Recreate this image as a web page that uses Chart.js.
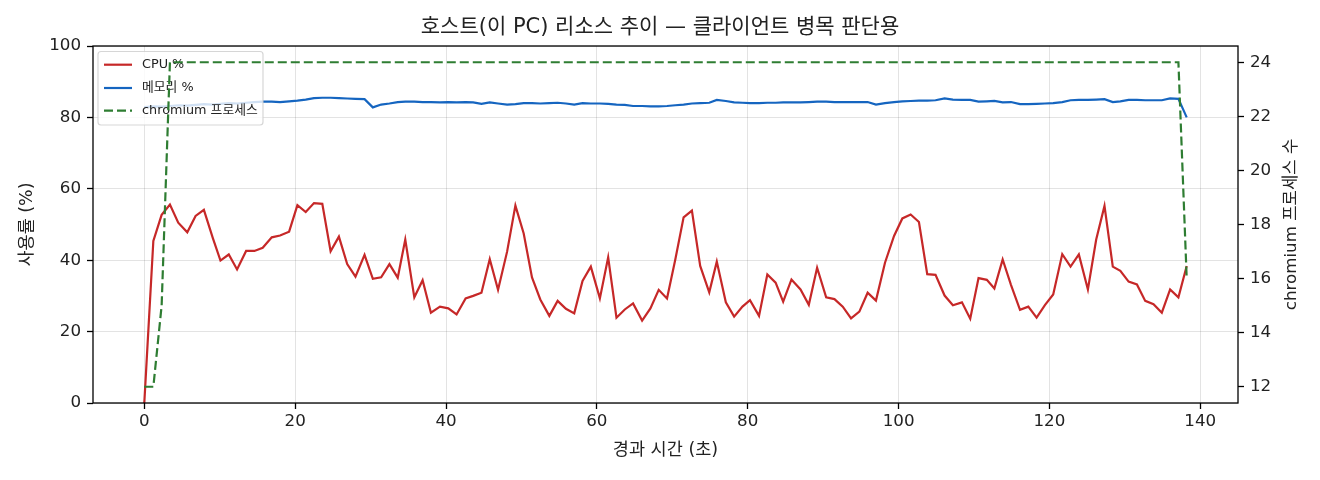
<!DOCTYPE html>
<html>
<head>
<meta charset="utf-8">
<script src="https://cdn.jsdelivr.net/npm/chart.js@4.4.1/dist/chart.umd.min.js"></script>
<style>
  html, body { margin: 0; padding: 0; background: #fff; }
  #wrap { width: 1320px; height: 480px; }
</style>
</head>
<body>
<div id="wrap"><canvas id="chart" width="1320" height="480"></canvas></div>
<script>
// elapsed seconds of each sample
const times = [
  0, 1.2, 2.3, 3.4, 4.5, 5.7, 6.8, 7.9, 9.1, 10.1, 11.2, 12.3, 13.5, 14.6, 15.7, 16.9, 18.0, 19.2, 20.3, 21.4,
  22.5, 23.6, 24.7, 25.8, 26.9, 28.0, 29.2, 30.3, 31.4, 32.5, 33.6, 34.6, 35.8, 36.9, 38.0, 39.2, 40.3, 41.4, 42.6, 43.6,
  44.7, 45.8,
  46.9, 48.1, 49.2, 50.3, 51.4, 52.5, 53.7, 54.8, 55.9, 57.0, 58.1, 59.2, 60.4, 61.5, 62.6, 63.7, 64.8, 66.0, 67.1, 68.2,
  69.3, 70.4, 71.5, 72.6, 73.7, 74.9, 75.9, 77.1, 78.2, 79.3, 80.3, 81.5, 82.6, 83.7, 84.7, 85.8, 87.0, 88.1, 89.2, 90.4,
  91.5, 92.6, 93.7, 94.8, 95.9, 97.0,
  98.2, 99.4, 100.5, 101.6, 102.7, 103.8, 104.9, 106.1, 107.2, 108.4, 109.5, 110.6, 111.7, 112.7, 113.8, 114.9, 116.1,
  117.2, 118.3, 119.4, 120.5, 121.7, 122.8, 123.9, 125.1, 126.2, 127.3, 128.4, 129.4, 130.5, 131.6, 132.7, 133.8, 134.9,
  136.0, 137.1, 138.2
];

const cpuPct = [
  0, 45.4, 52.7, 55.6, 50.5, 47.8, 52.4, 54.1, 46.1, 39.9, 41.6, 37.4, 42.6, 42.6, 43.5, 46.4, 46.9, 48.0, 55.4, 53.5,
  56.0, 55.8, 42.5, 46.6, 38.9, 35.4, 41.5, 34.8, 35.2, 38.9, 35.1, 45.8, 29.6, 34.4, 25.3, 27.0, 26.5, 24.8, 29.3, 30.0,
  30.9, 40.3,
  31.7, 42.4, 55.3, 47.5, 35.2, 29.0, 24.4, 28.6, 26.4, 25.1, 34.2, 38.2, 29.3, 40.8, 23.9, 26.2, 27.9, 23.1, 26.5, 31.7,
  29.3, 40.2, 52.0, 53.9, 38.4, 31.0, 39.6, 28.2, 24.2, 27.0, 28.8, 24.4, 36.0, 33.7, 28.4, 34.6, 31.8, 27.5, 37.9, 29.6,
  29.1, 27.0, 23.7, 25.6, 30.9, 28.7,
  39.3, 46.8, 51.7, 52.8, 50.7, 36.1, 35.9, 30.1, 27.4, 28.2, 23.6, 35.0, 34.5, 32.1, 40.2, 33.1, 26.1, 27.0, 23.9, 27.4,
  30.4, 41.7, 38.2, 41.6, 31.8, 45.8, 55.2, 38.2, 37.0, 34.0, 33.2, 28.6, 27.7, 25.3, 31.8, 29.6, 38.4
];

const memPct = [
  82.9, 83.1, 83.0, 83.2, 83.4, 83.3, 83.5, 83.7, 83.6, 83.8, 84.0, 83.9, 84.1, 84.3, 84.4, 84.4, 84.3, 84.5, 84.7, 85.0,
  85.4, 85.5, 85.5, 85.4, 85.3, 85.2, 85.1, 82.8, 83.6, 83.9, 84.3, 84.4, 84.4, 84.3, 84.3, 84.2, 84.3, 84.2, 84.3, 84.2,
  83.8, 84.2,
  83.9, 83.6, 83.7, 84.0, 84.0, 83.9, 84.0, 84.1, 83.9, 83.6, 84.0, 83.9, 83.9, 83.8, 83.6, 83.5, 83.2, 83.2, 83.1, 83.1,
  83.2, 83.4, 83.6, 83.9, 84.0, 84.1, 84.9, 84.6, 84.2, 84.1, 84.0, 84.0, 84.1, 84.1, 84.2, 84.2, 84.2, 84.3, 84.4, 84.4,
  84.3, 84.3, 84.3, 84.3, 84.3, 83.6,
  84.0, 84.3, 84.5, 84.6, 84.7, 84.7, 84.8, 85.3, 85.0, 84.9, 84.9, 84.4, 84.5, 84.6, 84.2, 84.3, 83.7, 83.7, 83.8, 83.9,
  84.0, 84.3, 84.8, 84.9, 84.9, 85.0, 85.1, 84.3, 84.5, 84.9, 84.9, 84.8, 84.8, 84.8, 85.3, 85.2, 80.0
];

// chromium process count only changes at these samples
const procTimes = [0, 1.2, 2.3, 3.4, 137.1, 138.2];
const procCount = [12, 12, 15, 24, 24, 16];

const xTicks = [0, 20, 40, 60, 80, 100, 120, 140];
const pctTicks = [0, 20, 40, 60, 80, 100];
const procTicks = [12, 14, 16, 18, 20, 22, 24];

// Latin and digits from DejaVu, Hangul falls through to Noto CJK
const FONT = "'DejaVu Sans', 'Noto Sans CJK KR', sans-serif";
const TEXT = '#222222';
const GRID = 'rgba(0,0,0,0.11)';

function toPoints(xs, ys) {
  return xs.map((t, i) => ({ x: t, y: ys[i] }));
}

function fixTicks(list) {
  return function(axis) {
    axis.ticks = list.map(v => ({ value: v }));
  };
}

// legend sits over the left-axis lines, under the chromium line
const legendBox = {
  id: 'legendBox',
  afterDatasetDraw(chart, args) {
    if (args.index !== 0) return;
    const ctx = chart.ctx;
    const a = chart.chartArea;
    const bx = a.left + 5, by = a.top + 5.5, bw = 165, bh = 73.5;
    ctx.save();
    ctx.beginPath();
    ctx.roundRect(bx, by, bw, bh, 3);
    ctx.fillStyle = 'rgba(255,255,255,0.8)';
    ctx.fill();
    ctx.lineWidth = 1.2;
    ctx.strokeStyle = 'rgba(204,204,204,0.8)';
    ctx.stroke();

    const rows = [18.7, 42, 64.7];
    ctx.font = '12.8px ' + FONT;
    ctx.textBaseline = 'middle';
    ctx.textAlign = 'left';
    chart.data.datasets.forEach((ds, i) => {
      const ry = a.top + rows[i];
      ctx.beginPath();
      ctx.setLineDash(ds.borderDash || []);
      ctx.lineWidth = ds.borderWidth;
      ctx.strokeStyle = ds.borderColor;
      ctx.moveTo(a.left + 11, ry);
      ctx.lineTo(a.left + 39, ry);
      ctx.stroke();
      ctx.setLineDash([]);
      ctx.fillStyle = TEXT;
      ctx.fillText(ds.label, a.left + 49, ry);
    });
    ctx.restore();
  },
  afterDatasetsDraw(chart) {
    const ctx = chart.ctx;
    const a = chart.chartArea;
    ctx.save();
    ctx.lineWidth = 1.3;
    ctx.strokeStyle = '#000';
    ctx.strokeRect(a.left, a.top, a.right - a.left, a.bottom - a.top);
    // right-hand axis title, read bottom to top
    ctx.translate(1291.5, (a.top + a.bottom) / 2);
    ctx.rotate(-Math.PI / 2);
    ctx.font = '16.7px ' + FONT;
    ctx.fillStyle = TEXT;
    ctx.textAlign = 'center';
    ctx.textBaseline = 'middle';
    ctx.fillText('chromium 프로세스 수', 0, 0);
    ctx.restore();
  }
};

const tickFont = { family: FONT, size: 16.7 };
const labelFont = { family: FONT, size: 17.5 };

new Chart(document.getElementById('chart'), {
  type: 'line',
  data: {
    datasets: [
      {
        label: 'CPU %',
        data: toPoints(times, cpuPct),
        borderColor: '#c62828',
        borderWidth: 2.2,
        yAxisID: 'y',
        order: 2
      },
      {
        label: '메모리 %',
        data: toPoints(times, memPct),
        borderColor: '#1565c0',
        borderWidth: 2.2,
        yAxisID: 'y',
        order: 3
      },
      {
        label: 'chromium 프로세스',
        data: toPoints(procTimes, procCount),
        borderColor: '#2e7d32',
        borderWidth: 2.2,
        borderDash: [9, 4],
        yAxisID: 'y1',
        order: 1
      }
    ]
  },
  options: {
    responsive: false,
    animation: false,
    devicePixelRatio: 1,
    layout: { padding: 0 },
    elements: {
      point: { radius: 0, hoverRadius: 0 },
      line: { tension: 0, fill: false }
    },
    plugins: {
      legend: { display: false },
      tooltip: { enabled: false },
      title: {
        display: true,
        text: '호스트(이 PC) 리소스 추이 — 클라이언트 병목 판단용',
        color: TEXT,
        font: { family: FONT, size: 21, weight: 'normal' },
        padding: { top: 15.4, bottom: 5.4 }
      }
    },
    scales: {
      x: {
        type: 'linear',
        min: -6.8,
        max: 145,
        afterBuildTicks: fixTicks(xTicks),
        afterFit: (axis) => { axis.height = 77; },
        border: { display: false },
        grid: { color: GRID, lineWidth: 1, tickLength: 6, tickColor: '#000', tickWidth: 1.3 },
        ticks: { font: tickFont, color: TEXT, padding: 3, maxRotation: 0, autoSkip: false },
        title: {
          display: true,
          text: '경과 시간 (초)',
          color: TEXT,
          font: labelFont,
          padding: { top: 0, bottom: 19.5 }
        }
      },
      y: {
        position: 'left',
        min: 0,
        max: 100,
        afterBuildTicks: fixTicks(pctTicks),
        afterFit: (axis) => { axis.width = 93; },
        border: { display: false },
        grid: { color: GRID, lineWidth: 1, tickLength: 6, tickColor: '#000', tickWidth: 1.3 },
        ticks: { font: tickFont, color: TEXT, padding: 6 },
        title: {
          display: true,
          text: '사용률 (%)',
          color: TEXT,
          font: labelFont,
          padding: { top: 16.5, bottom: 0 }
        }
      },
      y1: {
        position: 'right',
        min: 11.4,
        max: 24.6,
        afterBuildTicks: fixTicks(procTicks),
        afterFit: (axis) => { axis.width = 82; },
        border: { display: false },
        grid: { drawOnChartArea: false, tickLength: 6, tickColor: '#000', tickWidth: 1.3 },
        ticks: { font: tickFont, color: TEXT, padding: 6 }
      }
    }
  },
  plugins: [legendBox]
});
</script>
</body>
</html>
